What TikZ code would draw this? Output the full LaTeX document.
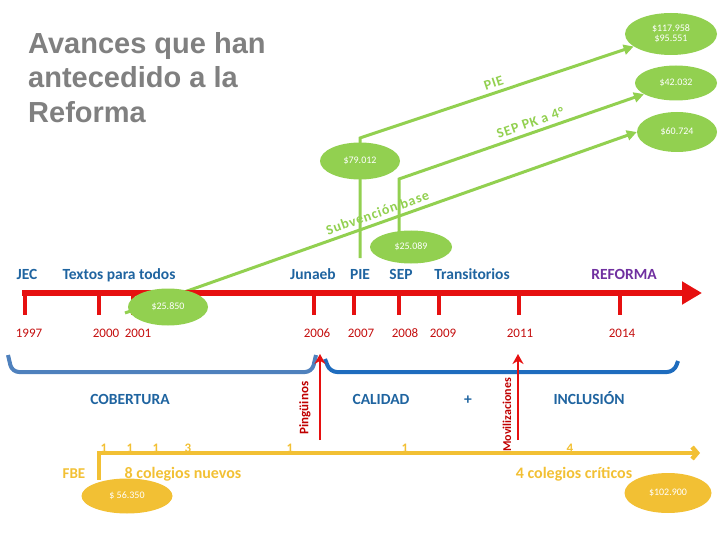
\documentclass[tikz,border=0pt]{standalone}
\usepackage{fontspec}
\setmainfont{Carlito}
\newfontfamily\titlefont{Liberation Sans}
\usetikzlibrary{shapes.geometric,arrows.meta,backgrounds}
\definecolor{sgreen}{RGB}{146,208,80}
\definecolor{syellow}{RGB}{242,192,52}
\definecolor{sred}{RGB}{230,16,16}
\definecolor{sdarkred}{RGB}{192,0,0}
\definecolor{sblue}{RGB}{31,100,160}
\definecolor{sbrace}{RGB}{79,129,189}
\definecolor{sbracetwo}{RGB}{30,108,190}
\definecolor{spurple}{RGB}{112,48,160}
\definecolor{sgray}{RGB}{128,128,128}
\newcommand{\pFs}[1]{\fontsize{#1}{#1}\selectfont}

\tikzset{
  money/.style={ellipse, inner sep=0pt, text=white, font=\pFs{10}},
  gmoney/.style={money, fill=sgreen},
  ymoney/.style={money, fill=syellow},
  eralbl/.style={anchor=base, inner sep=0pt, text=sblue, font=\pFs{15.5}\bfseries},
  yearlbl/.style={anchor=base, inner sep=0pt, text=sred!85!black, font=\pFs{13}},
  countlbl/.style={anchor=base, inner sep=0pt, text=syellow, font=\pFs{13}\bfseries},
  schoollbl/.style={anchor=base, inner sep=0pt, text=syellow, font=\pFs{16}\bfseries},
  protestlbl/.style={rotate=90, inner sep=0pt, text=sdarkred, font=\pFs{13}\bfseries},
  fundlink/.style={draw=sgreen, line width=3pt, -{Triangle[length=10pt,width=10pt]}},
  fundlbl/.style={sloped, above=4pt, inner sep=0pt, text=sgreen, font=\pFs{14}\bfseries\addfontfeatures{LetterSpace=6}},
  protestarrow/.style={draw=sred, line width=2.5pt, -{Stealth[length=10pt,width=11pt]}},
}

\begin{document}
\begin{tikzpicture}[x=1pt,y=-1pt]
\useasboundingbox (0,0) rectangle (720,540);

% title
\node[anchor=north west, align=left, inner sep=0pt, text=sgray, font=\titlefont\bfseries\fontsize{29}{34.5}\selectfont] (title) at (28,32) {Avances que han\\antecedido a la\\Reforma};

% timeline
\coordinate (axisstart) at (22,293);
\coordinate (axisend) at (702,293);
\draw[sred, line width=6pt, -{Triangle[length=20pt,width=22pt]}] (axisstart) -- (axisend);
\foreach \yr/\tx/\lx in {1997/25/29, 2000/99/106, 2001/133/138, 2006/314/317, 2007/354/361, 2008/399/405, 2009/439/443, 2011/519/520, 2014/620/622} {
  \draw[sred, line width=3.5pt] (\tx,293) -- (\tx,315);
  \node[yearlbl] (y\yr) at (\lx,337) {\yr};
}

% labels above the timeline
\node[eralbl] (jec) at (27,279) {JEC};
\node[eralbl] (textos) at (119,279) {Textos para todos};
\node[eralbl] (junaeb) at (313,279) {Junaeb};
\node[eralbl] (pie) at (360,279) {PIE};
\node[eralbl] (sep) at (401,279) {SEP};
\node[eralbl] (transit) at (472,279) {Transitorios};
\node[eralbl, text=spurple] (reforma) at (624,279) {REFORMA};

% funding ellipses
\node[gmoney, minimum width=80pt, minimum height=37pt] (e25850) at (168,307) {\$25.850};
\node[gmoney, minimum width=82pt, minimum height=33pt] (e25089) at (411,247) {\$25.089};
\node[gmoney, minimum width=80pt, minimum height=37pt] (e79012) at (360,161) {\$79.012};
\node[gmoney, minimum width=92pt, minimum height=42pt, align=center] (e117958) at (671,34) {\$117.958\\\$95.551};
\node[gmoney, minimum width=82pt, minimum height=35pt] (e42032) at (676,83) {\$42.032};
\node[gmoney, minimum width=80pt, minimum height=40pt] (e60724) at (677,132) {\$60.724};

% funding lines
\coordinate (sbstart) at (125,313);
\coordinate (piedown) at (360,258);
\coordinate (piebend) at (360,138);
\coordinate (sepbend) at (399,179);
\begin{pgfonlayer}{background}
\draw[fundlink] (sbstart) -- node[fundlbl] {Subvención base} (e60724.west);
\draw[fundlink] (sepbend |- e25089.center) -- (sepbend) -- node[fundlbl, pos=0.55] {SEP PK a 4°} (e42032);
\draw[fundlink] (piedown) -- (piebend) -- node[fundlbl] {PIE} (e117958);
\end{pgfonlayer}

% periods
\draw[sbrace, line width=4pt, rounded corners=7pt] (8,355) -- (12,372) -- (312,372) -- (316,355);
\draw[sbracetwo, line width=4pt, rounded corners=7pt] (325,359) -- (330,372) -- (674,372) -- (678,361);
\node[eralbl, anchor=base] (cobertura) at (130,404) {COBERTURA};
\node[eralbl, anchor=base] (calidad) at (381,404) {CALIDAD};
\node[eralbl, anchor=base] (plus) at (468,404) {+};
\node[eralbl, anchor=base] (inclusion) at (589,404) {INCLUSIÓN};

% protests
\coordinate (pingubase) at (320,440);
\coordinate (pingutip) at (320,354);
\coordinate (movbase) at (518,440);
\coordinate (movtip) at (518,354);
\draw[protestarrow] (pingubase) -- (pingutip);
\draw[protestarrow] (movbase) -- (movtip);
\node[protestlbl] (pingu) at (305,408) {Pingüinos};
\node[protestlbl, font=\pFs{12}\bfseries] (movil) at (507,415) {Movilizaciones};

% schools
\coordinate (ystart) at (97,453);
\coordinate (yend) at (700,453);
\draw[syellow, line width=4.5pt, -{Straight Barb[length=5pt,width=12pt]}] (ystart) -- (yend);
\draw[syellow, line width=3.5pt] (99,455) -- (99,480);
\foreach \cnt/\cx [count=\i] in {1/104, 1/130, 1/156, 3/188, 1/290, 1/405, 4/570} {
  \node[countlbl] (c\i) at (\cx,452) {\cnt};
}
\node[schoollbl, font=\pFs{15}\bfseries] (fbe) at (74,478) {FBE};
\node[schoollbl] (nuevos) at (183,478) {8 colegios nuevos};
\node[schoollbl] (criticos) at (574,478) {4 colegios críticos};
\node[ymoney, minimum width=91pt, minimum height=35pt] (e56350) at (127,496) {\$ 56.350};
\node[ymoney, minimum width=87pt, minimum height=40pt] (e102900) at (668,493) {\$102.900};
\end{tikzpicture}
\end{document}
